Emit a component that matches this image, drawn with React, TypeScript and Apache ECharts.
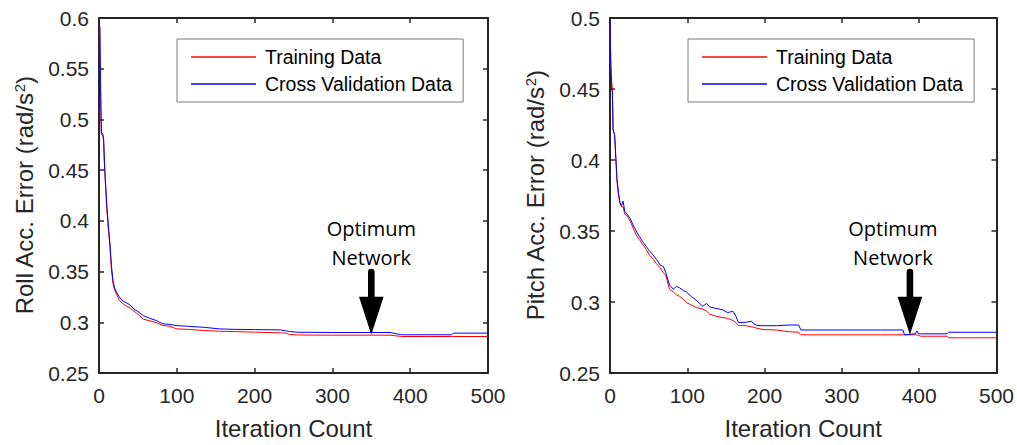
import React, { useEffect, useRef } from "react";
import * as echarts from "echarts";

// ---- Roll acceleration error ----
const rollIter = [0, 1, 2, 3, 5, 6, 7, 8, 10, 12, 14, 16, 18, 20, 23, 26, 31, 35, 40, 45, 50, 57, 65, 74, 82, 90, 100, 115, 134, 155, 175, 200, 233, 240, 245, 255, 300, 350, 374, 389, 420, 453, 456, 500];
const rollTrain = [0.593, 0.59, 0.53, 0.485, 0.484, 0.478, 0.455, 0.44, 0.412, 0.392, 0.375, 0.352, 0.338, 0.332, 0.327, 0.322, 0.318, 0.316, 0.314, 0.311, 0.308, 0.303, 0.3015, 0.2995, 0.297, 0.2962, 0.2935, 0.293, 0.2919, 0.2912, 0.2908, 0.2903, 0.2896, 0.2893, 0.288, 0.2875, 0.2873, 0.2873, 0.2873, 0.286, 0.286, 0.286, 0.286, 0.286];
const rollCV = [0.595, 0.592, 0.535, 0.487, 0.486, 0.48, 0.458, 0.443, 0.416, 0.396, 0.378, 0.356, 0.341, 0.334, 0.329, 0.325, 0.3205, 0.3195, 0.317, 0.313, 0.3105, 0.3065, 0.304, 0.3016, 0.2985, 0.298, 0.2967, 0.296, 0.2951, 0.2935, 0.293, 0.2928, 0.2925, 0.2915, 0.2909, 0.2902, 0.2899, 0.2899, 0.2899, 0.2877, 0.2877, 0.2877, 0.2893, 0.2893];

// ---- Pitch acceleration error ----
const pitchIter = [0, 1, 2, 3, 4, 6, 9, 11, 13, 15, 17, 19, 22, 26, 30, 34, 38, 43, 47, 51, 56, 60, 65, 69, 72, 77, 82, 86, 90, 95, 99, 105, 112, 120, 125, 129, 137, 146, 152, 159, 163, 166, 175, 183, 186, 190, 198, 215, 232, 244, 247, 300, 350, 379, 381, 395, 397, 399, 402, 436, 438, 500];
const pitchTrain = [0.495, 0.47, 0.456, 0.45, 0.422, 0.417, 0.385, 0.375, 0.369, 0.367, 0.367, 0.362, 0.361, 0.357, 0.352, 0.347, 0.344, 0.34, 0.337, 0.333, 0.33, 0.327, 0.324, 0.3205, 0.319, 0.309, 0.307, 0.305, 0.304, 0.302, 0.2995, 0.298, 0.296, 0.295, 0.2935, 0.2914, 0.29, 0.289, 0.2885, 0.287, 0.2855, 0.2835, 0.2835, 0.2825, 0.2822, 0.2815, 0.2806, 0.2803, 0.279, 0.2787, 0.2769, 0.2769, 0.2769, 0.2769, 0.2769, 0.2769, 0.2768, 0.2765, 0.2759, 0.2759, 0.2748, 0.2748];
const pitchCV = [0.496, 0.465, 0.451, 0.448, 0.421, 0.418, 0.387, 0.377, 0.37, 0.368, 0.371, 0.364, 0.362, 0.359, 0.354, 0.35, 0.346, 0.342, 0.339, 0.336, 0.333, 0.33, 0.326, 0.325, 0.321, 0.312, 0.309, 0.311, 0.31, 0.308, 0.307, 0.304, 0.301, 0.297, 0.299, 0.2965, 0.2955, 0.2945, 0.2925, 0.2935, 0.29, 0.2856, 0.2856, 0.2865, 0.2846, 0.2835, 0.2833, 0.2833, 0.2838, 0.2838, 0.2803, 0.2803, 0.2803, 0.2803, 0.2769, 0.2776, 0.2796, 0.2776, 0.2776, 0.2776, 0.2787, 0.2787];

const seriesNames = ["Training Data", "Cross Validation Data"];
const xAxisTitle = "Iteration Count";
const rollTitle = "Roll Acc. Error (rad/s{sup|2})";
const pitchTitle = "Pitch Acc. Error (rad/s{sup|2})";
const annotationText = "Optimum\nNetwork";
const rollOptimum = [350, 0.2877];
const pitchOptimum = [388, 0.2769];

const AX = "#262626";
const FONT = "'Liberation Sans', Arial, Helvetica, sans-serif";

function pairs(xs: number[], ys: number[]) {
  return xs.map((x, i) => [x, ys[i]]);
}

export default function App() {
  const ref = useRef<HTMLDivElement>(null);
  useEffect(() => {
    if (!ref.current) return;
    const chart = echarts.init(ref.current, null, { renderer: "svg" });

    const baseX = (gridIndex: number, top: boolean) => ({
      type: "value",
      gridIndex,
      position: top ? "top" : "bottom",
      min: 0,
      max: 500,
      interval: 100,
      name: top ? "" : xAxisTitle,
      nameLocation: "middle",
      nameGap: 43,
      nameTextStyle: { fontSize: 24, color: AX, fontFamily: FONT },
      axisLine: { show: true, onZero: false, lineStyle: { color: AX, width: 2 } },
      axisTick: { show: true, inside: true, length: 5, lineStyle: { color: AX, width: 1.5 } },
      axisLabel: { show: !top, fontSize: 21, color: AX, fontFamily: FONT, margin: 12 },
      splitLine: { show: false },
    });
    const baseY = (gridIndex: number, right: boolean, min: number, max: number, title: string) => ({
      type: "value",
      gridIndex,
      position: right ? "right" : "left",
      min,
      max,
      interval: 0.05,
      name: right ? "" : title,
      nameLocation: "middle",
      nameGap: 62,
      nameTextStyle: {
        fontSize: 24,
        color: AX,
        fontFamily: FONT,
        rich: { sup: { fontSize: 15, color: AX, fontFamily: FONT, verticalAlign: "top", padding: [0, 0, 10, 0] } },
      },
      axisLine: { show: true, onZero: false, lineStyle: { color: AX, width: 2 } },
      axisTick: { show: true, inside: true, length: 5, lineStyle: { color: AX, width: 1.5 } },
      axisLabel: { show: !right, fontSize: 21, color: AX, fontFamily: FONT, margin: 10 },
      splitLine: { show: false },
    });

    const legendBase = (left: number) => ({
      orient: "vertical",
      left,
      top: 39,
      data: seriesNames,
      icon: "rect",
      itemWidth: 65,
      itemHeight: 1.3,
      itemGap: 5,
      padding: [7, 11, 7, 14],
      borderColor: "#7a7a7a",
      borderWidth: 1,
      backgroundColor: "#fff",
      selectedMode: false,
      textStyle: { fontSize: 19.5, color: "#000", fontFamily: FONT, lineHeight: 22, padding: [0, 0, 0, 4] },
    });

    const line = (name: string, color: string, data: number[][], axisIndex: number) => ({
      type: "line",
      name,
      data,
      xAxisIndex: axisIndex,
      yAxisIndex: axisIndex,
      showSymbol: false,
      symbol: "none",
      color,
      lineStyle: { color, width: 1 },
      z: 3,
    });

    chart.setOption({
      animation: false,
      backgroundColor: "#fff",
      grid: [
        { left: 99, top: 18, width: 389, height: 360 },
        { left: 610, top: 18, width: 388, height: 360 },
      ],
      xAxis: [baseX(0, false), baseX(0, true), baseX(1, false), baseX(1, true)],
      yAxis: [
        baseY(0, false, 0.25, 0.6, rollTitle),
        baseY(0, true, 0.25, 0.6, rollTitle),
        baseY(1, false, 0.25, 0.5, pitchTitle),
        baseY(1, true, 0.25, 0.5, pitchTitle),
      ],
      legend: [legendBase(177), legendBase(688)],
      series: [
        line(seriesNames[0], "#ff0000", pairs(rollIter, rollTrain), 0),
        line(seriesNames[1], "#0000ff", pairs(rollIter, rollCV), 0),
        line(seriesNames[0], "#ff0000", pairs(pitchIter, pitchTrain), 2),
        line(seriesNames[1], "#0000ff", pairs(pitchIter, pitchCV), 2),
      ],
    });

    const arrow = (tip: number[], textDx: number) => {
      const [tx, ty] = tip;
      return [
        {
          type: "polygon",
          shape: { points: [[tx - 12.3, ty - 38], [tx + 12.3, ty - 38], [tx, ty]] },
          style: { fill: "#000" },
          z: 10,
        },
        {
          type: "rect",
          shape: { x: tx - 3.3, y: ty - 66, width: 6.6, height: 29, r: [3.3, 3.3, 0, 0] },
          style: { fill: "#000" },
          z: 10,
        },
        {
          type: "text",
          x: tx + textDx,
          y: ty - 92,
          style: {
            text: annotationText,
            fill: "#000",
            fontSize: 20,
            fontFamily: "'Open Sans', sans-serif",
            align: "center",
            verticalAlign: "middle",
            lineHeight: 28.7,
          },
          z: 10,
        },
      ];
    };

    const p0 = chart.convertToPixel({ seriesIndex: 0 }, rollOptimum) as number[];
    const p1 = chart.convertToPixel({ seriesIndex: 2 }, pitchOptimum) as number[];
    chart.setOption({ graphic: { elements: [...arrow(p0, 0), ...arrow(p1, -17)] } });

    return () => chart.dispose();
  }, []);
  return <div ref={ref} style={{ position: "fixed", left: 0, top: 0, width: 1017, height: 445 }} />;
}
